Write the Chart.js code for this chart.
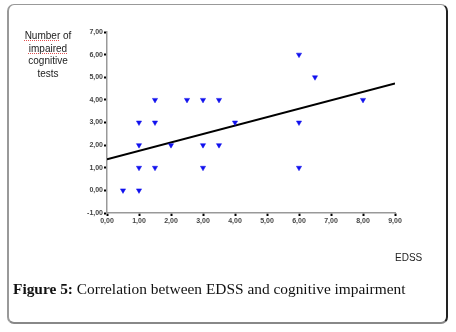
<!DOCTYPE html>
<html><head><meta charset="utf-8">
<script src="https://cdn.jsdelivr.net/npm/chart.js@4"></script>
<style>
html,body{margin:0;padding:0;background:#fff;width:456px;height:332px;overflow:hidden;}
#frame{position:absolute;left:7px;top:4px;width:437px;height:317px;border:1px solid #999;border-left:2px solid #999;border-right:2px solid #222;border-bottom:2px solid #888;border-radius:7px;}
#c{position:absolute;left:0;top:0;}
.yl{position:absolute;left:18px;top:30px;width:60px;text-align:center;font:10px "Liberation Sans",Arial,sans-serif;line-height:12.5px;color:#222;}
.u{text-decoration:underline dotted #e05050;text-decoration-thickness:1px;text-underline-offset:1px;}
#xl{position:absolute;left:395px;top:252px;font:10px "Liberation Sans",Arial,sans-serif;color:#222;}
#cap{position:absolute;left:13px;top:280px;font:15.4px "Liberation Serif","Times New Roman",serif;color:#111;white-space:nowrap;}
</style></head><body>
<div id="frame"></div>
<canvas id="c" width="456" height="332"></canvas>
<div class="yl"><span class="u">Number</span> of<br><span class="u">impaired</span><br>cognitive<br>tests</div>
<div id="xl">EDSS</div>
<div id="cap"><b>Figure 5:</b> Correlation between EDSS and cognitive impairment</div>
<script>
const edss = [0.5, 1, 1, 1, 1, 1.5, 1.5, 1.5, 2, 2.5, 3, 3, 3, 3.5, 3.5, 4, 6, 6, 6, 6.5, 8];
const impairedTests = [0, 0, 1, 2, 3, 1, 3, 4, 2, 4, 4, 2, 1, 4, 2, 3, 6, 3, 1, 5, 4];
const fitX = [0, 9];
const fitY = [1.37, 4.73];
const xTicks = [0,1,2,3,4,5,6,7,8,9];
const yTicks = [-1,0,1,2,3,4,5,6,7];

const fmt = v => v.toFixed(2).replace('.', ',');
const tickFont = {family:'"Liberation Sans", Arial, sans-serif', size:7, weight:'bold'};

new Chart(document.getElementById('c'), {
  type: 'scatter',
  data: {
    datasets: [
      {
        data: edss.map((x,i)=>({x, y: impairedTests[i]})),
        pointStyle: 'triangle', rotation: 180, radius: 3, hoverRadius: 3,
        backgroundColor: '#1010ee', borderColor: '#1010ee', borderWidth: 0.5
      },
      {
        type: 'line',
        data: fitX.map((x,i)=>({x, y: fitY[i]})),
        borderColor: '#000', borderWidth: 2, pointRadius: 0, fill: false
      }
    ]
  },
  options: {
    responsive: false, animation: false, events: [],
    layout: {padding: {left: 0, top: 32, right: 61, bottom: 0}},
    plugins: {legend: {display: false}, tooltip: {enabled: false}},
    scales: {
      x: {
        type: 'linear', min: 0, max: 9,
        afterBuildTicks: s => { s.ticks = xTicks.map(v=>({value:v})); },
        afterFit: s => { s.height = 119; },
        grid: {drawOnChartArea: false, tickLength: 3, tickColor: '#000', tickWidth: 2},
        border: {color: '#999', width: 1.5},
        ticks: {font: tickFont, color: '#444', padding: 1, maxRotation: 0, autoSkip: false, callback: v => fmt(v)}
      },
      y: {
        type: 'linear', min: -1, max: 7,
        afterBuildTicks: s => { s.ticks = yTicks.map(v=>({value:v})); },
        afterFit: s => { s.width = 107; },
        grid: {drawOnChartArea: false, tickLength: 3, tickColor: '#000', tickWidth: 2},
        border: {color: '#999', width: 1.5},
        ticks: {font: tickFont, color: '#444', padding: 1, autoSkip: false, callback: v => fmt(v)}
      }
    }
  }
});
</script>
</body></html>
